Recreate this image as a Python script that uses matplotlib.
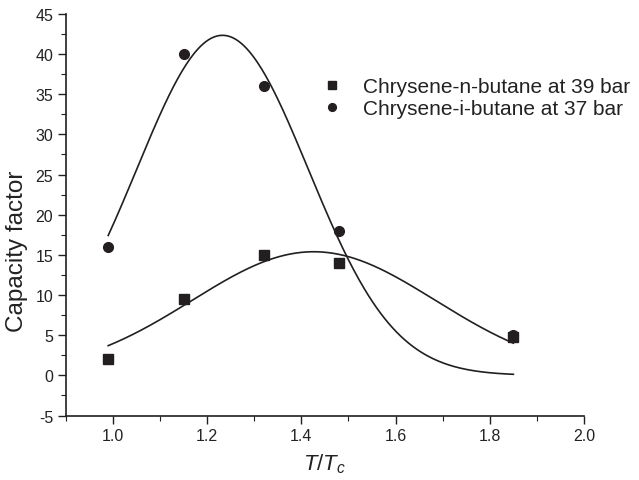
import numpy as np
import matplotlib
matplotlib.use("Agg")
import matplotlib.pyplot as plt

plt.rcParams['font.family'] = ['Liberation Sans', 'DejaVu Sans']
plt.rcParams['mathtext.fontset'] = 'custom'
plt.rcParams['mathtext.rm'] = 'Liberation Sans'
plt.rcParams['mathtext.it'] = 'Liberation Sans:italic'
plt.rcParams['axes.unicode_minus'] = False

# Data
t_ratio = [0.99, 1.15, 1.32, 1.48, 1.85]
n_butane = [2.0, 9.5, 15.0, 14.0, 4.8]
i_butane = [16.0, 40.0, 36.0, 18.0, 5.0]
series_labels = ["Chrysene-n-butane at 39 bar", "Chrysene-i-butane at 37 bar"]

x_ticks = [1.0, 1.2, 1.4, 1.6, 1.8, 2.0]
y_ticks = [-5, 0, 5, 10, 15, 20, 25, 30, 35, 40, 45]


def gauss(x, p):
    a, xc, s = p
    return a * np.exp(-(x - xc) ** 2 / (2 * s ** 2))


def fit_gauss(x, y, p0, iters=300):
    x = np.asarray(x, float)
    y = np.asarray(y, float)
    p = np.array(p0, float)
    lam = 1e-3
    def cost(pp):
        return np.sum((gauss(x, pp) - y) ** 2)
    c = cost(p)
    for _ in range(iters):
        a, xc, s = p
        e = np.exp(-(x - xc) ** 2 / (2 * s ** 2))
        J = np.column_stack([e,
                             a * e * (x - xc) / s ** 2,
                             a * e * (x - xc) ** 2 / s ** 3])
        r = y - gauss(x, p)
        H = J.T @ J
        g = J.T @ r
        ok = False
        while lam < 1e9:
            step = np.linalg.solve(H + lam * np.diag(np.diag(H) + 1e-12), g)
            pn = p + step
            cn = cost(pn)
            if cn < c:
                p, c = pn, cn
                lam = max(lam / 3, 1e-9)
                ok = True
                break
            lam *= 5
        if not ok:
            break
    return p


fig = plt.figure(figsize=(6.39, 4.81), dpi=100)
ax = fig.add_axes([0.103, 0.134, 0.811, 0.835])

col = '#231f20'
xs = np.linspace(min(t_ratio), max(t_ratio), 300)
pn = fit_gauss(t_ratio, n_butane, [15, 1.4, 0.25])
pi = fit_gauss(t_ratio, i_butane, [40, 1.23, 0.18])
ax.plot(xs, gauss(xs, pn), color=col, lw=1.2)
ax.plot(xs, gauss(xs, pi), color=col, lw=1.2)

ax.plot(t_ratio, n_butane, 's', color=col, ms=7, ls='none', label=series_labels[0])
ax.plot(t_ratio, i_butane, 'o', color=col, ms=7, ls='none', label=series_labels[1])

ax.set_xlim(0.9, 2.0)
ax.set_ylim(-5, 45)
ax.set_xticks(x_ticks)
ax.set_xticklabels([f"{v:.1f}" for v in x_ticks])
ax.set_yticks(y_ticks)
ax.set_yticklabels([str(v) for v in y_ticks])
ax.set_xticks(np.arange(0.9, 2.0, 0.2), minor=True)
ax.set_yticks(np.arange(-2.5, 45, 5), minor=True)
ax.spines['top'].set_visible(False)
ax.spines['right'].set_visible(False)
for s in ['left', 'bottom']:
    ax.spines[s].set_linewidth(1.2)
    ax.spines[s].set_color(col)
ax.tick_params(which='major', direction='out', length=6, width=1.0, colors=col,
               labelsize=11.5, labelcolor='#222222', pad=3)
ax.tick_params(which='minor', direction='out', length=3.5, width=0.8, colors=col)

ax.set_ylabel("Capacity factor", fontsize=17.5, color='#222222')
ax.yaxis.set_label_coords(-0.073, 0.4125)
ax.set_xlabel(r"$T/T_c$", fontsize=16, color='#222222', labelpad=6)

leg = ax.legend(loc='upper right', bbox_to_anchor=(1.125, 0.89), frameon=False,
                fontsize=15, handlelength=1.0, handletextpad=1.0,
                labelspacing=0.15, markerscale=0.8)
for t in leg.get_texts():
    t.set_color('#222222')

fig.savefig("out.png", dpi=100)
